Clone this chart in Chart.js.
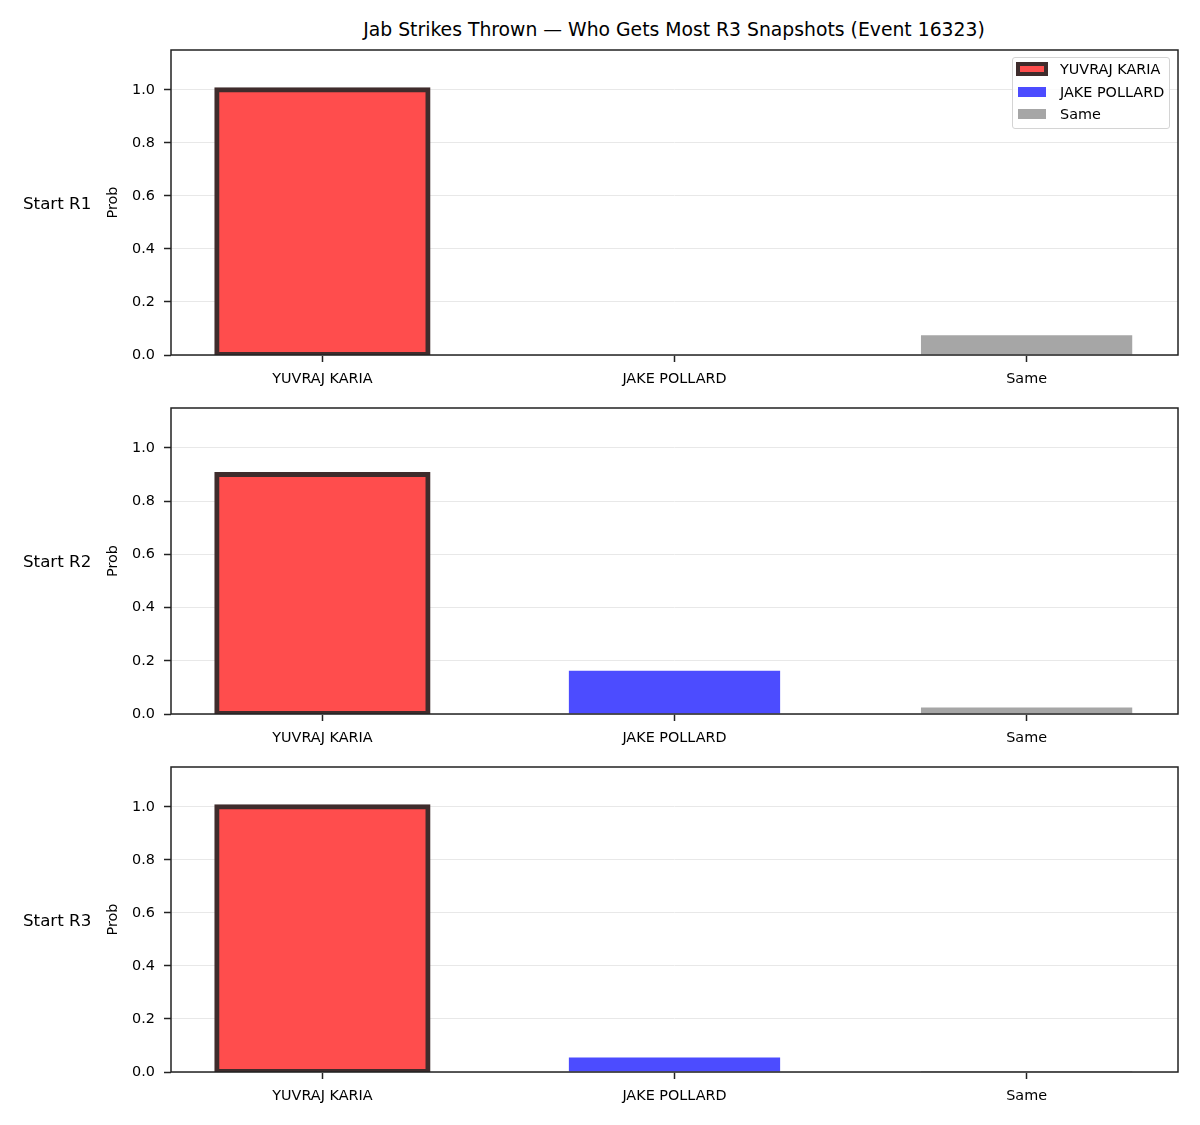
<!DOCTYPE html>
<html lang="en">
<head>
<meta charset="UTF-8">
<title>Jab Strikes Thrown</title>
<script src="https://cdn.jsdelivr.net/npm/chart.js"></script>
<style>
  body { margin: 0; background: #fff; font-family: 'DejaVu Sans', sans-serif; overflow: hidden; }
  #page { position: relative; width: 1200px; height: 1125px; }
  canvas { position: absolute; left: 0; }
  .title { position: absolute; top: 19px; left: 674px; transform: translateX(-50%); white-space: nowrap; font-size: 18.8px; line-height: 22px; color: #000; }
  .rowlabel { position: absolute; left: 23px; font-size: 16.7px; line-height: 20px; color: #000; white-space: nowrap; }
  #legend { position: absolute; left: 1012px; top: 57px; width: 156px; height: 70px; border: 1px solid #d4d4d4; border-radius: 3px; background: rgba(255,255,255,0.8); z-index: 2; font-size: 14.4px; }
  .item { height: 22.5px; line-height: 22.5px; display: flex; align-items: center; }
  .swatch { display: inline-block; width: 28px; height: 10px; margin-left: 5px; }
  .label { margin-left: 14px; }
</style>
</head>
<body>
<div id="page">
  <div class="title">Jab Strikes Thrown — Who Gets Most R3 Snapshots (Event 16323)</div>
  <div id="legend"></div>
</div>

<script>
// data
const categories = ['YUVRAJ KARIA', 'JAKE POLLARD', 'Same'];
const rowLabels = ['Start R1', 'Start R2', 'Start R3'];
const yuvrajProb = [1.0, 0.90, 1.0];
const jakeProb = [0.0, 0.163, 0.055];
const sameProb = [0.074, 0.024, 0.004];
const yTickValues = [0, 0.2, 0.4, 0.6, 0.8, 1.0];

const seriesColors = ['rgba(255,0,0,0.7)', 'rgba(0,0,255,0.7)', 'rgba(128,128,128,0.7)'];
const edgeColor = '#3f2c2c';

// chart area of each panel (pixels on the page)
const panels = [
    { top: 50, bottom: 355 },
    { top: 408, bottom: 714 },
    { top: 767, bottom: 1072 }
];

Chart.defaults.font.family = "'DejaVu Sans', sans-serif";
Chart.defaults.font.size = 14.4;
Chart.defaults.color = '#000';

// draws the four spines round the plot area
const frame = {
    id: 'frame',
    afterDraw(chart) {
        const a = chart.chartArea;
        const ctx = chart.ctx;
        ctx.save();
        ctx.strokeStyle = '#222';
        ctx.lineWidth = 1.5;
        ctx.strokeRect(a.left, a.top, a.right - a.left, a.bottom - a.top);
        ctx.restore();
    }
};

const page = document.getElementById('page');
const allValues = [yuvrajProb, jakeProb, sameProb];

panels.forEach((p, i) => {
    const padTop = 20, axisH = 40;
    const canvas = document.createElement('canvas');
    canvas.width = 1200;
    canvas.height = padTop + (p.bottom - p.top) + axisH;
    canvas.style.top = (p.top - padTop) + 'px';
    page.appendChild(canvas);

    const lab = document.createElement('div');
    lab.className = 'rowlabel';
    lab.textContent = rowLabels[i];
    lab.style.top = ((p.top + p.bottom) / 2 - 10) + 'px';
    page.appendChild(lab);

    const datasets = categories.map((name, k) => ({
        label: name,
        data: [{ x: k, y: allValues[k][i] }],
        // first bar is opaque so its edge can sit across the bar outline
        backgroundColor: k === 0 ? '#ff4d4d' : seriesColors[k],
        borderColor: k === 0 ? edgeColor : 'rgba(0,0,0,0)',
        borderWidth: k === 0 ? 5 : 0,
        inflateAmount: k === 0 ? 2.5 : 0,
        borderSkipped: false
    }));

    new Chart(canvas.getContext('2d'), {
        type: 'bar',
        data: { datasets: datasets },
        options: {
            responsive: false,
            animation: false,
            layout: { padding: { top: padTop, right: 22, bottom: 0, left: 0 } },
            datasets: { bar: { grouped: false, categoryPercentage: 0.6, barPercentage: 1 } },
            plugins: { legend: { display: false }, tooltip: { enabled: false } },
            scales: {
                x: {
                    type: 'linear',
                    offset: false,
                    min: -0.43,
                    max: 2.43,
                    afterBuildTicks: s => { s.ticks = categories.map((c, k) => ({ value: k })); },
                    afterFit: s => { s.height = axisH; },
                    ticks: { callback: v => categories[v], padding: 9, autoSkip: false, maxRotation: 0 },
                    grid: { offset: false, drawOnChartArea: false, tickLength: 7, tickColor: '#222', tickWidth: 1.5 },
                    border: { display: false }
                },
                y: {
                    min: 0,
                    max: 1.15,
                    afterBuildTicks: s => { s.ticks = yTickValues.map(v => ({ value: v })); },
                    afterFit: s => { s.width = 171; },
                    ticks: { callback: v => v.toFixed(1), padding: 9 },
                    grid: { color: '#e8e8e8', lineWidth: 1, tickLength: 7, tickColor: '#222', tickWidth: 1.5 },
                    border: { display: false },
                    title: { display: true, text: 'Prob', font: { size: 14.4 }, padding: { top: 105, bottom: 0 } }
                }
            }
        },
        plugins: [frame]
    });
});

// legend inside the first panel, top right
const legend = document.getElementById('legend');
categories.forEach((name, k) => {
    const item = document.createElement('div');
    item.className = 'item';
    const sw = document.createElement('span');
    sw.className = 'swatch';
    sw.style.background = k === 0 ? '#ff4d4d' : seriesColors[k];
    if (k === 0) sw.style.boxShadow = '0 0 0 2px ' + edgeColor + ', inset 0 0 0 2px ' + edgeColor;
    const tx = document.createElement('span');
    tx.className = 'label';
    tx.textContent = name;
    item.appendChild(sw);
    item.appendChild(tx);
    legend.appendChild(item);
});
</script>
</body>
</html>
